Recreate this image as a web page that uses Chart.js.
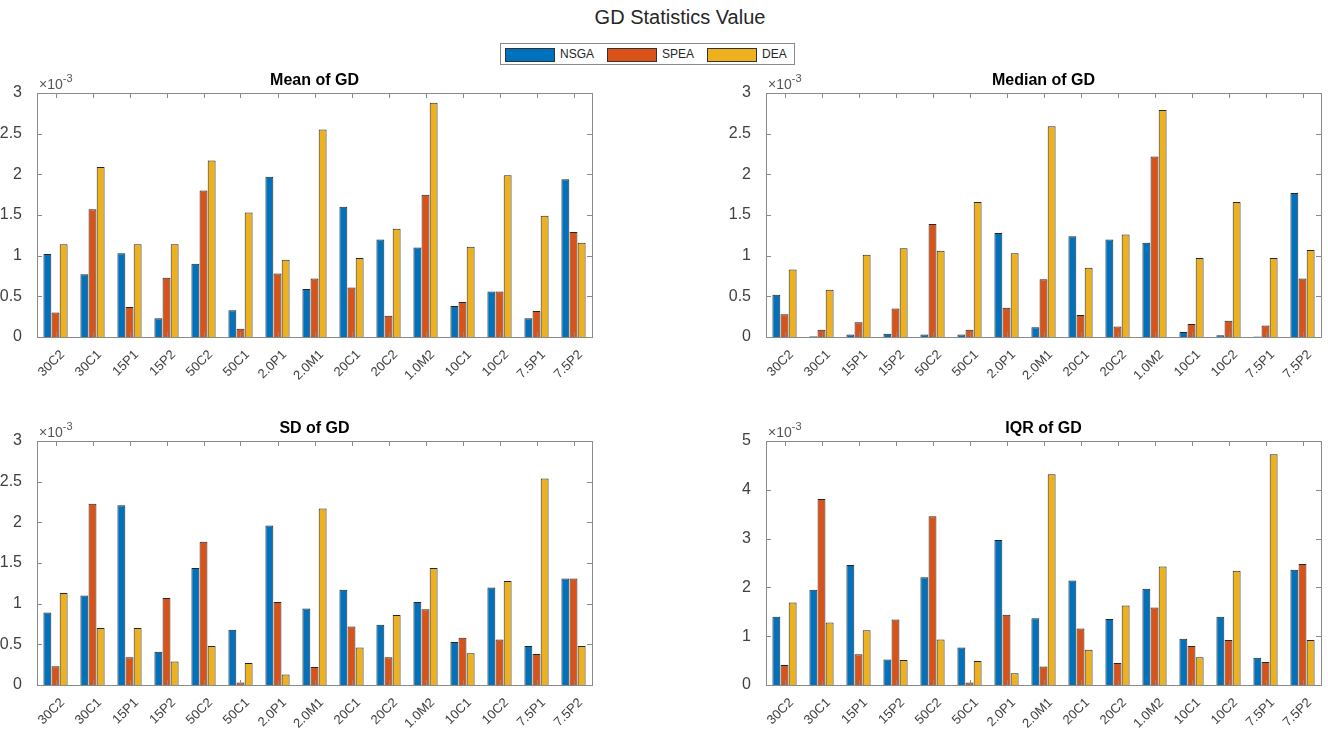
<!DOCTYPE html>
<html>
<head>
<meta charset="utf-8">
<script src="https://cdn.jsdelivr.net/npm/chart.js"></script>
<style>
body{margin:0;background:#fff;width:1328px;height:738px;position:relative;overflow:hidden;font-family:"Liberation Sans",Arial,sans-serif}
canvas{position:absolute}
#title{position:absolute;left:0;width:1360px;top:6px;text-align:center;font-size:20px;color:#262626}
#legend{position:absolute;left:500px;top:43px;width:293px;height:20px;border:1px solid #8a8a8a;background:#fff}
.sw{position:absolute;top:4px;width:48px;height:12px;border:1px solid #333}
.lt{position:absolute;top:3px;font-size:12px;color:#262626}
</style>
</head>
<body>
<div id="title">GD Statistics Value</div>
<div id="legend">
  <div class="sw" style="left:4px;background:#0072BD"></div><div class="lt" style="left:59px">NSGA</div>
  <div class="sw" style="left:106px;background:#D95319"></div><div class="lt" style="left:161px">SPEA</div>
  <div class="sw" style="left:206px;background:#EDB120"></div><div class="lt" style="left:261px">DEA</div>
</div>
<canvas id="c0" width="610" height="340" style="left:0;top:70px"></canvas>
<canvas id="c1" width="628" height="340" style="left:700px;top:70px"></canvas>
<canvas id="c2" width="610" height="320" style="left:0;top:418px"></canvas>
<canvas id="c3" width="628" height="320" style="left:700px;top:418px"></canvas>
<script>
// categories and values (x10^-3)
const categories = ['30C2','30C1','15P1','15P2','50C2','50C1','2.0P1','2.0M1','20C1','20C2','1.0M2','10C1','10C2','7.5P1','7.5P2'];
const seriesNames = ['NSGA','SPEA','DEA'];
const seriesColors = ['#0072BD','#D95319','#EDB120'];

const meanNSGA = [1.02,0.77,1.03,0.23,0.90,0.33,1.97,0.59,1.60,1.20,1.10,0.38,0.56,0.23,1.94];
const meanSPEA = [0.30,1.57,0.37,0.73,1.80,0.10,0.78,0.72,0.61,0.26,1.75,0.43,0.56,0.32,1.29];
const meanDEA  = [1.14,2.09,1.14,1.14,2.17,1.53,0.95,2.55,0.97,1.33,2.88,1.11,1.99,1.49,1.16];

const medNSGA = [0.52,0.01,0.03,0.04,0.03,0.03,1.28,0.12,1.24,1.20,1.16,0.06,0.02,0.005,1.77];
const medSPEA = [0.28,0.09,0.18,0.35,1.39,0.09,0.36,0.71,0.27,0.13,2.22,0.16,0.20,0.14,0.72];
const medDEA  = [0.83,0.58,1.01,1.09,1.06,1.66,1.03,2.59,0.85,1.26,2.79,0.97,1.66,0.97,1.07];

const sdNSGA = [0.89,1.10,2.21,0.41,1.44,0.68,1.96,0.94,1.17,0.74,1.02,0.53,1.20,0.48,1.31];
const sdSPEA = [0.23,2.23,0.34,1.07,1.76,0.03,1.02,0.22,0.72,0.34,0.93,0.58,0.56,0.38,1.31];
const sdDEA  = [1.13,0.70,0.70,0.29,0.48,0.27,0.13,2.17,0.46,0.86,1.44,0.39,1.28,2.54,0.48];

const iqrNSGA = [1.40,1.95,2.46,0.52,2.21,0.77,2.97,1.37,2.14,1.35,1.97,0.95,1.40,0.56,2.36];
const iqrSPEA = [0.41,3.81,0.63,1.34,3.46,0.05,1.44,0.38,1.16,0.45,1.59,0.80,0.92,0.47,2.48];
const iqrDEA  = [1.69,1.28,1.12,0.51,0.93,0.49,0.24,4.32,0.72,1.63,2.43,0.57,2.34,4.73,0.92];

const panels = [
  {id:'c0', title:'Mean of GD',   data:[meanNSGA,meanSPEA,meanDEA], max:3, step:0.5, yw:37, xh:73, pr:18},
  {id:'c1', title:'Median of GD', data:[medNSGA,medSPEA,medDEA],    max:3, step:0.5, yw:66, xh:73, pr:7},
  {id:'c2', title:'SD of GD',     data:[sdNSGA,sdSPEA,sdDEA],       max:3, step:0.5, yw:37, xh:53, pr:18},
  {id:'c3', title:'IQR of GD',    data:[iqrNSGA,iqrSPEA,iqrDEA],    max:5, step:1,   yw:66, xh:53, pr:7}
];

// matlab-like box, inward ticks, subplot title, exponent
const axesBox = {
  id: 'axesBox',
  afterDatasetsDraw(chart, args, opts) {
    const {ctx, chartArea: a, scales} = chart;
    ctx.save();
    ctx.strokeStyle = '#8a8a8a';
    ctx.lineWidth = 1;
    ctx.strokeRect(Math.round(a.left)+0.5, Math.round(a.top)+0.5, Math.round(a.right-a.left), Math.round(a.bottom-a.top));
    ctx.beginPath();
    const tl = 5;
    scales.x.ticks.forEach((t, i) => {
      const x = Math.round(scales.x.getPixelForTick(i)) + 0.5;
      ctx.moveTo(x, a.bottom); ctx.lineTo(x, a.bottom - tl);
      ctx.moveTo(x, a.top); ctx.lineTo(x, a.top + tl);
    });
    scales.y.ticks.forEach((t) => {
      const y = Math.round(scales.y.getPixelForValue(t.value)) + 0.5;
      ctx.moveTo(a.left, y); ctx.lineTo(a.left + tl, y);
      ctx.moveTo(a.right, y); ctx.lineTo(a.right - tl, y);
    });
    ctx.stroke();
    ctx.fillStyle = '#000';
    ctx.font = 'bold 16px "Liberation Sans", Arial, sans-serif';
    ctx.textAlign = 'center';
    ctx.textBaseline = 'middle';
    ctx.fillText(opts.title, (a.left + a.right) / 2, a.top - 12);
    ctx.fillStyle = '#555';
    ctx.textAlign = 'left';
    ctx.textBaseline = 'alphabetic';
    ctx.font = '14px "Liberation Sans", Arial, sans-serif';
    ctx.fillText('\u00d710', a.left + 2, a.top - 4);
    const w = ctx.measureText('\u00d710').width;
    ctx.font = '11px "Liberation Sans", Arial, sans-serif';
    ctx.fillText('-3', a.left + 2 + w, a.top - 11);
    ctx.restore();
  }
};

panels.forEach(p => {
  new Chart(document.getElementById(p.id), {
    type: 'bar',
    data: {
      labels: categories,
      datasets: p.data.map((vals, i) => ({
        label: seriesNames[i],
        data: vals,
        backgroundColor: seriesColors[i],
        borderColor: '#262626',
        borderWidth: 1,
        categoryPercentage: 0.66,
        barPercentage: 0.97
      }))
    },
    plugins: [axesBox],
    options: {
      responsive: false,
      animation: false,
      layout: {padding: {top: 23, right: p.pr, left: 0, bottom: 0}},
      plugins: {
        legend: {display: false},
        tooltip: {enabled: false},
        axesBox: {title: p.title}
      },
      scales: {
        x: {
          grid: {display: false},
          border: {display: false},
          ticks: {
            autoSkip: false, minRotation: 45, maxRotation: 45, padding: 2,
            labelOffset: 7,
            color: '#404040',
            font: {family: '"Liberation Sans", Arial, sans-serif', size: 13}
          },
          afterFit(s) { s.height = p.xh; }
        },
        y: {
          min: 0, max: p.max,
          grid: {display: false},
          border: {display: false},
          ticks: {
            stepSize: p.step, padding: 7,
            color: '#404040',
            font: {family: '"Liberation Sans", Arial, sans-serif', size: 16},
            callback: v => String(Number(v.toFixed(2)))
          },
          afterFit(s) { s.width = p.yw; }
        }
      }
    }
  });
});
</script>
</body>
</html>
